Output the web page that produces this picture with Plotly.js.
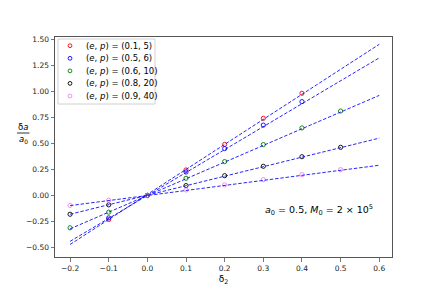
<!DOCTYPE html>
<html><head><meta charset="utf-8">
<script src="https://cdn.plot.ly/plotly-3.0.1.min.js"></script>
<style>html,body{margin:0;padding:0;background:#fff}#c{width:436px;height:291px}</style>
</head><body><div id="c"></div>
<script>
// series labels
const seriesNames = ['(0.1, 5)', '(0.5, 6)', '(0.6, 10)', '(0.8, 20)', '(0.9, 40)'];
const seriesColors = ['#ff0000', '#0000ff', '#008000', '#000000', '#ee82ee'];
// data points
const xRed = [-0.1, 0.0, 0.1, 0.2, 0.3, 0.4];
const yRed = [-0.23, 0.0, 0.245, 0.49, 0.74, 0.98];
const xBlue = [-0.1, 0.0, 0.1, 0.2, 0.3, 0.4];
const yBlue = [-0.215, 0.0, 0.225, 0.45, 0.675, 0.9];
const xGreen = [-0.2, -0.1, 0.0, 0.1, 0.2, 0.3, 0.4, 0.5];
const yGreen = [-0.31, -0.16, 0.0, 0.165, 0.325, 0.488, 0.648, 0.81];
const xBlack = [-0.2, -0.1, 0.0, 0.1, 0.2, 0.3, 0.4, 0.5];
const yBlack = [-0.18, -0.09, 0.0, 0.095, 0.19, 0.28, 0.372, 0.462];
const xPink = [-0.2, -0.1, 0.0, 0.1, 0.2, 0.3, 0.4, 0.5];
const yPink = [-0.095, -0.045, 0.0, 0.053, 0.102, 0.152, 0.2, 0.248];
// fitted lines (endpoints)
const fitX = [-0.2, 0.6];
const fitRed = [-0.47, 1.45];
const fitBlue = [-0.44, 1.32];
const fitGreen = [-0.32, 0.96];
const fitBlack = [-0.18, 0.55];
const fitPink = [-0.097, 0.29];
// ticks
const xTicks = [-0.2, -0.1, 0.0, 0.1, 0.2, 0.3, 0.4, 0.5, 0.6];
const yTicks = [-0.5, -0.25, 0.0, 0.25, 0.5, 0.75, 1.0, 1.25, 1.5];

const ptsX = [xRed, xBlue, xGreen, xBlack, xPink];
const ptsY = [yRed, yBlue, yGreen, yBlack, yPink];
const fits = [fitRed, fitBlue, fitGreen, fitBlack, fitPink];

const traces = [];
for (let i = 0; i < 5; i++) {
  traces.push({x: ptsX[i], y: ptsY[i], mode: 'markers', type: 'scatter', name: '(e, p) = ' + seriesNames[i],
    showlegend: false, cliponaxis: false,
    marker: {symbol: 'circle-open', size: 4.2, color: seriesColors[i], line: {width: 0.9, color: seriesColors[i]}}});
  traces.push({x: fitX, y: fits[i], mode: 'lines', type: 'scatter', showlegend: false, hoverinfo: 'skip',
    line: {color: 'rgba(0,0,255,0.85)', width: 1, dash: '3.5px,1.8px'}});
}

// pixel -> paper helpers (plot area: x 55..392, y 37..257)
const L = 55, R = 392, T = 37, B = 257;
const px = v => (v - L) / (R - L);
const py = v => (B - v) / (B - T);

const font = 'DejaVu Sans, sans-serif';
const annotations = [];
const shapes = [];

// legend box
shapes.push({type: 'rect', xref: 'paper', yref: 'paper', x0: px(58), x1: px(155), y0: py(39), y1: py(104),
  line: {color: '#d0d0d0', width: 1}, fillcolor: 'rgba(255,255,255,0.8)', layer: 'above'});
const legY = [45.7, 58.3, 70.9, 83.4, 96];
for (let i = 0; i < 5; i++) {
  const r = 1.9;
  shapes.push({type: 'circle', xref: 'paper', yref: 'paper', x0: px(70 - r), x1: px(70 + r), y0: py(legY[i] + r), y1: py(legY[i] - r),
    line: {color: seriesColors[i], width: 0.9}, layer: 'above'});
  annotations.push({xref: 'paper', yref: 'paper', x: px(84), y: py(legY[i]), xanchor: 'left', yanchor: 'middle',
    showarrow: false, text: '(<i>e</i>, <i>p</i>) = ' + seriesNames[i], font: {family: font, size: 8.5, color: '#000'}});
}
// text annotation
annotations.push({xref: 'paper', yref: 'paper', x: px(318.5), y: py(210), xanchor: 'center', yanchor: 'middle', showarrow: false,
  text: '<i>a</i><sub>0</sub> = 0.5, <i>M</i><sub>0</sub> = 2 × 10<sup>5</sup>', font: {family: font, size: 9.5, color: '#000'}});
// y label as fraction
annotations.push({xref: 'paper', yref: 'paper', x: px(23), y: py(127), xanchor: 'center', yanchor: 'middle', showarrow: false,
  text: 'δ<i>a</i>', font: {family: font, size: 8.5, color: '#000'}});
annotations.push({xref: 'paper', yref: 'paper', x: px(23), y: py(139.5), xanchor: 'center', yanchor: 'middle', showarrow: false,
  text: '<i>a</i><sub>0</sub>', font: {family: font, size: 8.5, color: '#000'}});
shapes.push({type: 'line', xref: 'paper', yref: 'paper', x0: px(17), x1: px(29.5), y0: py(133), y1: py(133), line: {color: '#000', width: 0.8}});

const axisCommon = {showgrid: false, zeroline: false, showline: true, mirror: true, linecolor: '#555', linewidth: 1,
  ticks: 'outside', ticklen: 3.5, tickwidth: 0.8, tickcolor: '#555', tickfont: {family: font, size: 7.5, color: '#222'}};

const layout = {
  width: 436, height: 291, paper_bgcolor: '#fff', plot_bgcolor: '#fff',
  margin: {l: L, r: 436 - R, t: T, b: 291 - B},
  showlegend: false,
  xaxis: Object.assign({}, axisCommon, {range: [-0.239, 0.633], tickvals: xTicks, ticktext: xTicks.map(v => (v < 0 ? '−' : '') + Math.abs(v).toFixed(1)),
    title: {text: 'δ<sub>2</sub>', font: {family: font, size: 9, color: '#000'}, standoff: 4}}),
  yaxis: Object.assign({}, axisCommon, {range: [-0.59, 1.52], tickvals: yTicks, ticktext: yTicks.map(v => (v < 0 ? '−' : '') + Math.abs(v).toFixed(2))}),
  annotations: annotations, shapes: shapes
};
Plotly.newPlot('c', traces, layout, {staticPlot: true, displayModeBar: false});
</script></body></html>
